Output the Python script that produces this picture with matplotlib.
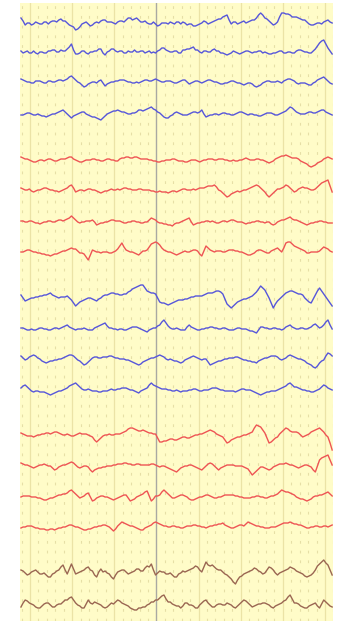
import numpy as np
import matplotlib
matplotlib.use("Agg")
import matplotlib.pyplot as plt

# EEG-style montage: 18 channels, amplitudes (px units, up = positive)
blue_a1 = [5, 2, -2, 0, 0, -2, -1, 1, 0, -1,
           -1, 1, 1, -1, 1, 2, 2, 1, 3, 4,
           2, 2, 0, -2, -3, -4, -7, -6, -4, -1,
           0, 1, -1, -3, -2, 0, 1, 0, 2, 3,
           3, 1, 1, 1, 0, -1, 1, 2, 2, 1,
           3, 5, 5, 3, 4, 5, 3, 1, 1, 2,
           0, -1, -1, 1, -1, -3, -2, 0, 0, 0,
           -1, 1, 0, -1, 1, 1, -1, 1, 0, -2,
           -1, -1, -3, -3, -2, -1, 0, 2, 1, -1,
           0, 1, 2, 3, 4, 4, 6, 7, 8, 3,
           -1, 1, 1, -1, 0, 1, 2, 0, 1, 2,
           3, 3, 5, 8, 10, 8, 5, 4, 2, 0,
           -2, -1, 1, 6, 10, 10, 9, 9, 8, 6,
           6, 6, 5, 4, 3, 3, 1, -1, -2, -2,
           -1, 0, 0, -1, 1, 2, 3, 1, 0]
blue_a2 = [1, -1, 0, 1, -1, -1, 1, -1, -2, 0,
           0, -1, -1, 1, 1, 2, 2, 0, 0, 2,
           1, 1, 3, 5, 8, 2, -2, -2, -1, 1,
           1, -1, -2, 0, 0, 1, 1, 3, 3, -1,
           -3, 0, 1, 3, 3, 1, 0, 1, 1, -1,
           -1, 1, 0, 0, 2, 0, 0, 1, 1, -1,
           0, 1, -1, 0, -1, 1, 2, 4, 4, 2,
           1, 0, 0, 1, 1, -1, -1, 2, 2, 3,
           3, 4, 5, 2, 2, 0, -1, 1, 1, 0,
           0, 2, 3, 1, 1, -1, -1, -2, -3, -2,
           -1, 1, 0, -1, -2, -1, 0, 1, 1, 0,
           -1, 0, 0, 1, 1, -1, 0, -1, -2, -2,
           -1, -1, 0, 1, 1, -1, -1, 0, 0, -1,
           -1, 1, 2, 2, 1, 0, 0, -1, -1, 1,
           3, 6, 9, 11, 12, 8, 4, 1, -2]
blue_a3 = [3, 2, 1, 0, 0, -1, -1, 1, 1, 1,
           0, -1, -1, 1, 1, 0, 0, 1, 2, 2,
           1, 2, 3, 5, 6, 4, 2, 0, -1, -3,
           -5, -4, -2, -1, 0, 0, -1, 1, 2, -1,
           -4, -2, -1, 0, 0, 1, 1, 2, 2, 2,
           1, 0, 0, -1, -1, 0, -1, 0, 1, 2,
           2, 1, 1, 2, 3, 2, 1, 0, 0, 1,
           1, 1, 0, -1, -1, 0, 1, 2, 2, 0,
           -2, -1, 0, 1, 1, 0, -1, 0, 1, 2,
           2, 1, 0, 0, -1, -2, -2, -1, -1, 0,
           1, 1, 0, -1, -1, -2, -3, -2, -1, -1,
           -2, -4, -5, -4, -3, -1, 0, 1, 1, 0,
           0, 0, 1, 0, -1, 1, 2, 3, 3, 2,
           1, -1, -2, -1, -1, -1, -2, -3, -3, -1,
           0, 2, 3, 4, 5, 3, 1, -1, -2]
blue_a4 = [0, 0, 1, 2, 2, 1, 0, 0, 1, 0,
           -1, -1, -2, -1, 0, 1, 1, 2, 3, 4,
           5, 3, 1, -1, -3, -1, 0, 1, 2, 3,
           3, 1, 0, -1, -2, -2, -3, -4, -5, -3,
           -1, 1, 2, 3, 4, 4, 5, 4, 3, 3,
           2, 1, 1, 2, 2, 3, 5, 5, 4, 5,
           6, 7, 8, 6, 5, 3, 2, 0, -2, -3,
           -3, -1, 0, 2, 3, 2, 1, 0, 0, 0,
           1, 2, 3, 3, 2, 3, 5, 1, -2, -1,
           0, 0, 1, 1, 0, 1, 2, 2, 1, 1,
           0, 0, 1, 2, 3, 3, 2, 1, 0, 1,
           1, 0, 0, -1, -1, 0, 1, 2, 2, 2,
           1, 0, 0, 1, 2, 3, 4, 6, 8, 7,
           5, 3, 2, 1, 1, 1, 2, 3, 3, 2,
           2, 3, 4, 5, 5, 3, 2, 1, 0]

red_a1 = [3, 2, 1, 1, 0, -1, -2, -2, -1, 0,
          0, -1, 0, 1, 1, 0, -1, -1, 0, 1,
          1, 1, 2, 3, 3, 1, 0, -1, -2, -2,
          -1, 0, 0, 0, 1, 1, 0, 0, -1, -1,
          0, 1, 1, 0, 0, -1, -1, 1, 2, 2,
          3, 3, 2, 2, 3, 3, 2, 1, 1, 1,
          1, 0, 0, -1, -1, -2, -2, -1, -1, 0,
          0, 0, 1, 1, 0, -1, -1, -1, -2, -2,
          -1, 0, 0, 0, -1, -2, -1, 0, 0, 1,
          1, 1, 0, 0, 1, 1, 1, 0, 0, -1,
          -1, 0, -1, -1, 0, 0, 1, 2, 1, 0,
          0, 0, 1, 1, 0, 0, -1, -2, -3, -2,
          -1, 1, 2, 3, 4, 4, 5, 4, 3, 2,
          2, 2, 1, -1, -2, -3, -4, -6, -7, -6,
          -5, -3, -2, -1, 1, 2, 3, 2, 1]
red_a2 = [2, 1, 0, 0, 1, -1, -2, -1, 0, 0,
          1, 2, 2, 1, 0, 0, -1, -1, -2, -1,
          0, 1, 2, 4, 5, 2, -2, -1, 0, 0,
          -1, 0, 1, 1, 0, 0, -1, -2, -3, -2,
          -1, -1, 0, 1, 0, 0, 1, 0, 1, 2,
          2, 1, 1, 0, 0, 0, 1, 1, 0, 0,
          0, 0, -1, -1, -2, -2, -1, -2, -2, -2,
          -3, -2, -1, -1, -2, -1, 0, 1, 1, 0,
          0, 0, 1, 0, 1, 2, 2, 2, 3, 4,
          4, 4, 5, 3, 0, -1, -3, -5, -7, -6,
          -4, -3, -2, -1, -2, -1, 0, 0, 1, 2,
          3, 4, 5, 4, 2, 0, -2, -5, -7, -5,
          -3, -1, 1, 1, 2, 3, 5, 4, 2, 0,
          -2, -1, 1, 2, 3, 2, 2, 1, 0, 0,
          1, 3, 5, 7, 8, 9, 10, 4, -2]
red_a3 = [1, 1, 0, 0, 1, 1, 0, -1, -1, -2,
          -1, 0, 0, 1, 1, 0, 0, 1, 2, 2,
          1, 2, 3, 4, 6, 4, 2, 0, -1, 0,
          0, 1, 1, 1, 2, 0, -3, -2, -1, -1,
          0, 0, 1, 2, 2, 1, 1, 1, 0, -1,
          -1, 0, 0, 1, 1, 0, 0, -1, -1, 0,
          0, 2, 4, 3, 2, 0, -1, -1, -2, -2,
          -3, -3, -4, -2, -1, -1, 0, 1, 2, 3,
          4, 0, -3, -2, -1, -1, 0, 0, 1, 1,
          0, 1, 0, -1, -1, 0, 1, 1, 0, 1,
          2, 2, 1, 0, 0, 0, -1, -2, -1, -1,
          0, 0, 1, 1, 0, 0, -1, 0, 0, -2,
          -3, -2, 0, 1, 2, 2, 3, 4, 5, 3,
          2, 2, 1, 0, -1, -2, -3, -2, -1, -1,
          0, 0, 1, 1, 0, 0, -1, -1, -1]
red_a4 = [0, 0, 1, 2, 2, 1, 0, 0, -1, -1,
          -2, -2, -3, -3, -4, -3, -2, -2, -1, 0,
          1, 1, 2, 3, 4, 3, 3, 1, -1, -1,
          -2, -5, -8, -3, 2, 1, 0, 0, -1, 0,
          0, 0, -1, -1, 0, 1, 3, 6, 9, 5,
          2, 1, 0, 0, -1, -2, -3, -1, 1, 1,
          2, 5, 8, 9, 10, 9, 7, 4, 2, 1,
          0, 0, -1, -2, -3, -2, -1, 0, 1, 0,
          0, 1, 2, 2, 1, -2, -4, 1, 6, 4,
          2, 1, 0, 1, 1, 1, 0, 0, 1, 2,
          2, 2, 1, 1, 0, 0, -1, -2, -3, -3,
          -2, -1, 1, 2, 2, 1, 0, -1, -1, 1,
          2, 3, 4, 2, 0, 4, 9, 10, 10, 8,
          6, 5, 4, 3, 2, 1, -1, -1, 0, 0,
          0, 0, 1, 3, 5, 4, 3, 1, 0]

blue_b1 = [3, 0, -3, -2, -1, 0, 0, 1, 1, 2,
           2, 3, 3, 4, 5, 3, 2, 1, 0, 1,
           1, 1, 2, 0, -2, -5, -8, -6, -4, -3,
           -2, -1, 0, 0, -1, -2, -3, -1, 0, 2,
           3, 3, 4, 5, 5, 4, 4, 3, 3, 4,
           4, 6, 7, 9, 10, 11, 12, 13, 13, 10,
           7, 6, 5, 5, 4, 0, -4, -5, -5, -6,
           -7, -6, -5, -4, -3, -2, -2, -2, -1, -1,
           0, 1, 1, 2, 2, 2, 2, 3, 4, 5,
           5, 5, 6, 7, 7, 6, 4, -1, -6, -8,
           -10, -8, -6, -4, -3, -2, -1, -1, 0, 1,
           2, 4, 6, 9, 12, 10, 8, 4, 0, -5,
           -10, -6, -3, -1, 1, 3, 5, 6, 7, 7,
           6, 5, 4, 4, 3, 0, -2, -4, -5, -1,
           3, 7, 10, 7, 4, 1, -2, -5, -8]
blue_b2 = [1, 1, 0, -1, -1, 0, -1, -1, 0, 1,
           1, 0, 0, -1, -1, 0, 1, 1, 0, 1,
           2, 3, 4, 2, 1, 0, -1, 0, 0, 0,
           1, 0, -1, -1, -1, 1, 2, 3, 4, 5,
           6, 3, 1, 1, 0, 0, -1, 0, 0, -1,
           -1, 0, 1, 2, 2, 2, 1, 0, -1, -2,
           -3, -1, 0, 1, 1, 3, 4, 7, 9, 6,
           3, 1, 0, 0, 1, 0, -1, -1, -1, 2,
           4, 2, 1, 0, -1, -1, 0, 0, 1, 1,
           2, 2, 1, 1, 0, 0, 1, 1, 0, -1,
           -1, -1, 0, 1, 1, 0, 0, 0, -1, -2,
           -2, -3, -4, -1, 2, 2, 1, 1, 0, 0,
           1, 1, 0, 0, -1, 0, 2, 3, 4, 2,
           1, 0, 0, 1, 1, 0, 0, 1, 2, 4,
           5, 3, 1, 2, 4, 7, 9, 4, 0]
blue_b3 = [2, 0, -2, -1, 1, 2, 3, 2, 0, -1,
           -3, -4, -5, -4, -3, -3, -2, -2, -1, -1,
           0, 1, 2, 3, 3, 2, 0, -2, -3, -5,
           -7, -6, -4, -2, 0, 1, 1, 0, 0, 1,
           1, 1, 2, 2, 1, 0, 0, -1, -1, -1,
           -2, -2, -3, -4, -5, -6, -7, -6, -4, -3,
           -2, -1, 0, 0, 1, 2, 3, 2, 1, -1,
           -2, -1, -2, -3, -3, -4, -5, -4, -2, -1,
           0, 1, 2, 1, 0, -1, -2, -1, -1, -4,
           -7, -6, -5, -4, -3, -3, -2, -1, -1, 0,
           0, 0, 1, 1, 0, -1, -2, -2, -3, -3,
           -4, -4, -5, -3, -2, -1, 0, 0, 1, 2,
           2, 2, 1, -1, -2, -1, 0, 2, 3, 2,
           1, 0, -1, -1, -2, -3, -5, -6, -7, -9,
           -10, -8, -5, -3, -2, 2, 5, 4, 2]
blue_b4 = [2, 4, 5, 3, 1, -1, -2, -1, -1, -2,
           -2, -2, -3, -4, -5, -4, -3, -2, -1, -1,
           0, 1, 2, 4, 5, 6, 7, 5, 3, 1,
           0, 0, 1, 0, -1, -1, -1, -2, -2, -1,
           -1, -1, 0, 1, 0, 0, 1, 1, 2, 2,
           2, 1, 0, 0, -1, -2, -3, -1, 0, 1,
           2, 5, 7, 5, 4, 3, 2, 1, 1, 1,
           0, 0, -1, -1, 0, -1, -2, -1, -1, -1,
           0, 0, 1, 1, 0, -1, -1, 0, 0, 0,
           1, 2, 2, 2, 1, 0, 0, -1, -1, -1,
           -1, -1, -2, -1, 0, 1, 1, 0, 0, 0,
           -1, -2, -3, -4, -5, -4, -3, -2, -2, -1,
           -1, -1, 0, 1, 2, 3, 4, 6, 7, 5,
           3, 3, 2, 1, 0, 0, -1, -1, -2, -2,
           -1, 0, 1, 3, 5, 4, 2, 1, 0]

red_b1 = [2, 1, 0, -1, -1, -1, -2, -1, 0, 0,
          1, 1, 2, 2, 1, 2, 3, 3, 2, 1,
          0, 0, 1, 0, -1, -1, 0, 1, 2, 1,
          1, 1, 0, -1, -2, -5, -7, -5, -3, -1,
          0, 0, 1, 0, 0, 1, 1, 1, 2, 3,
          4, 6, 7, 7, 6, 5, 4, 4, 5, 4,
          3, 2, 2, 1, 1, -3, -7, -7, -6, -6,
          -5, -4, -4, -5, -5, -4, -3, -2, -2, -3,
          -3, -2, -1, 0, 0, 1, 1, 2, 3, 4,
          5, 4, 3, 1, 0, -1, -2, -5, -8, -7,
          -5, -4, -3, -2, -2, -1, 0, 0, 1, 2,
          3, 7, 10, 9, 8, 5, 2, -3, -8, -7,
          -5, -3, -2, 1, 3, 5, 7, 6, 4, 3,
          3, 3, 2, 0, -2, -1, 0, 1, 3, 4,
          5, 6, 7, 5, 3, 0, -2, -8, -15]
red_b2 = [2, 1, 0, 0, -1, -2, -3, -2, -1, 0,
          0, 1, 0, -1, -1, -3, -5, -4, -2, -1,
          0, 0, 1, 2, 3, 2, 0, -2, -3, -2,
          -1, -1, -2, -5, -7, -5, -4, -3, -3, -2,
          -2, -1, -1, -1, 0, 0, 1, 1, 1, 2,
          2, 1, 1, 0, 0, 1, 1, 0, 0, 0,
          0, 0, 1, 1, 0, -1, -2, -1, -1, -2,
          -3, -4, -5, -6, -7, -5, -3, -2, -1, -1,
          0, 0, -1, -2, -3, -4, -5, -3, -1, 1,
          2, 1, -1, -3, -5, -3, -2, -1, 0, 0,
          0, 0, -1, -1, -1, -1, -2, -3, -4, -7,
          -10, -8, -6, -4, -2, -2, -3, -4, -5, -4,
          -2, -1, 0, 1, 1, 1, 2, 1, 0, 0,
          -1, -2, -3, -2, -1, 0, 0, -1, -2, -5,
          -7, -1, 5, 7, 8, 9, 10, 5, 0]
red_b3 = [0, 1, 1, 1, 1, 0, 0, 0, -1, -1,
          -2, -3, -3, -2, -1, -1, 0, 1, 2, 2,
          3, 3, 4, 6, 7, 5, 3, 1, -1, 0,
          1, 3, 4, 0, -4, -3, -1, 0, 1, 1,
          0, 0, -1, -2, -3, -2, -1, 0, 1, 2,
          2, -1, -4, -3, -2, 0, 1, 2, 3, 5,
          6, 1, -4, -2, 1, 1, 2, 5, 7, 5,
          3, 1, -1, -1, 0, 1, 2, 2, 1, 0,
          -2, -3, -3, -2, -1, 0, 0, 1, 2, 2,
          1, 0, -1, -1, 0, 0, 1, 2, 2, 2,
          2, 2, 1, 1, 0, 0, -1, -1, -1, -1,
          0, 0, 1, 1, 0, 0, -1, -1, 0, 1,
          1, 2, 3, 5, 7, 6, 5, 5, 4, 3,
          2, 0, -1, -2, -2, -3, -4, -3, -2, 0,
          1, 1, 2, 2, 3, 4, 5, 3, 1]
red_b4 = [-1, 0, 0, 1, 1, 1, 0, -1, -1, -2,
          -2, -2, -3, -3, -2, -2, -3, -2, -1, -1,
          0, 0, 1, 2, 2, 1, 0, 0, -1, -2,
          -3, -3, -2, -2, -1, 0, 0, 1, 1, 2,
          2, 1, 0, -2, -4, -2, 1, 3, 5, 4,
          3, 2, 1, 1, 0, -1, -2, -3, -3, -1,
          0, 1, 2, 4, 5, 4, 3, 2, 1, 1,
          0, 0, 1, 1, 0, 0, -1, -1, 0, 1,
          1, 1, 2, 2, 1, 1, 0, 0, -1, 0,
          1, 1, 2, 2, 3, 3, 4, 2, 1, 0,
          -1, -1, 0, 1, 2, 2, 1, 3, 5, 4,
          3, 2, 1, 1, 0, 0, -1, -1, -1, 0,
          0, 0, 1, 2, 3, 4, 4, 4, 5, 4,
          3, 3, 2, 2, 1, 0, -1, -1, 0, 0,
          1, 1, 0, 0, 1, 1, 0, 1, 2]

brown_1 = [2, 1, -1, -3, -2, 0, 1, 2, 0, -2,
           -2, -1, -3, -5, -5, -2, -1, 1, 2, 5,
           7, 2, -2, 3, 8, 3, -2, -1, 0, 1,
           2, 4, 5, 2, 1, -3, -5, 0, 3, 0,
           1, -1, -2, -5, -7, -3, 0, 1, 2, 2,
           0, -2, -1, 0, 1, 3, 3, 1, 1, 4,
           6, 5, 8, 2, -3, -1, 1, 0, 0, -2,
           -2, -1, -3, -5, -5, -2, -1, 1, 0, 1,
           2, 3, 4, 6, 5, 2, 0, 5, 10, 7,
           6, 7, 5, 3, 2, 2, 0, -2, -3, -5,
           -7, -10, -12, -8, -5, -4, -2, -1, 0, 1,
           2, 4, 3, 1, 0, -2, -1, 2, 5, 4,
           2, -1, -3, -1, 0, 1, 2, 3, 5, 4,
           3, 1, 0, -1, -2, -4, -5, -4, -3, -1,
           2, 6, 8, 10, 12, 9, 7, 2, -3]
brown_2 = [-2, 2, 5, 4, 2, 1, 0, -2, -3, -3,
           -1, 1, 2, 2, 0, -2, -2, 0, 1, 1,
           3, 5, 5, 7, 8, 5, 2, 0, -1, -3,
           -3, 1, 5, 2, 1, 3, 2, 1, 0, -2,
           -3, -2, 0, 2, 1, 3, 5, 4, 2, 1,
           0, -1, -3, -4, -5, -5, -3, -3, -2, -2,
           0, 1, 3, 3, 5, 5, 7, 9, 10, 6,
           3, 3, 1, 0, -1, -1, -3, -1, 2, 2,
           0, 0, -1, -3, -3, 0, 2, 4, 5, 2,
           0, -2, -2, 0, 1, 1, 0, 0, 2, 1,
           0, -2, -3, -1, 1, 3, 5, 4, 2, 0,
           -2, -1, 0, 1, 1, 2, 2, 1, 0, -2,
           -3, -1, 0, 1, 2, 4, 5, 8, 10, 6,
           2, 2, 1, -1, -2, -3, -3, -1, 0, 1,
           2, -1, -3, 1, 5, 3, 1, -1, -2]

channels = [blue_a1, blue_a2, blue_a3, blue_a4,
            red_a1, red_a2, red_a3, red_a4,
            blue_b1, blue_b2, blue_b3, blue_b4,
            red_b1, red_b2, red_b3, red_b4,
            brown_1, brown_2]
channel_colors = (['#5656da'] * 4 + ['#ee5454'] * 4 + ['#5656da'] * 4
                  + ['#ee5454'] * 4 + ['#9a6652'] * 2)

# layout: pixel row of each baseline and the time span of the page
baselines = [23, 52, 82, 115, 160, 190, 222, 252,
             298, 329, 358, 390, 435, 465, 497, 527, 572, 605]
t_start, t_end = 0.786, 8.17

plt.rcParams['lines.scale_dashes'] = False
W, H = 345, 623
fig = plt.figure(figsize=(W / 100, H / 100), dpi=100)
fig.patch.set_facecolor('white')
ax = fig.add_axes([20 / W, 2 / H, 313 / W, 618 / H])
ax.set_facecolor('#fffcc8')
ax.set_xlim(0.763, 8.19)
ax.set_ylim(621, 3)

# minor dashed (0.2 s) and major solid (1 s) time grid
for k in range(4, 42):
    t = k * 0.2
    if abs(t - round(t)) < 1e-6:
        continue
    ax.axvline(t, color='#e6dfa6', lw=0.8, linestyle=(0, (2, 5)), zorder=1)
for s in range(1, 9):
    if s == 4:
        ax.axvline(s, color='#a9a9a2', lw=1.0, zorder=1)
    else:
        ax.axvline(s, color='#ebe3a6', lw=0.9, zorder=1)

for vals, base, col in zip(channels, baselines, channel_colors):
    v = np.array(vals, dtype=float)
    t = np.linspace(t_start, t_end, len(v))
    ax.plot(t, base - v, color=col, lw=1.0, zorder=2)

ax.set_xticks([])
ax.set_yticks([])
for sp in ax.spines.values():
    sp.set_visible(False)

fig.savefig('out.png', dpi=100, facecolor='white')
